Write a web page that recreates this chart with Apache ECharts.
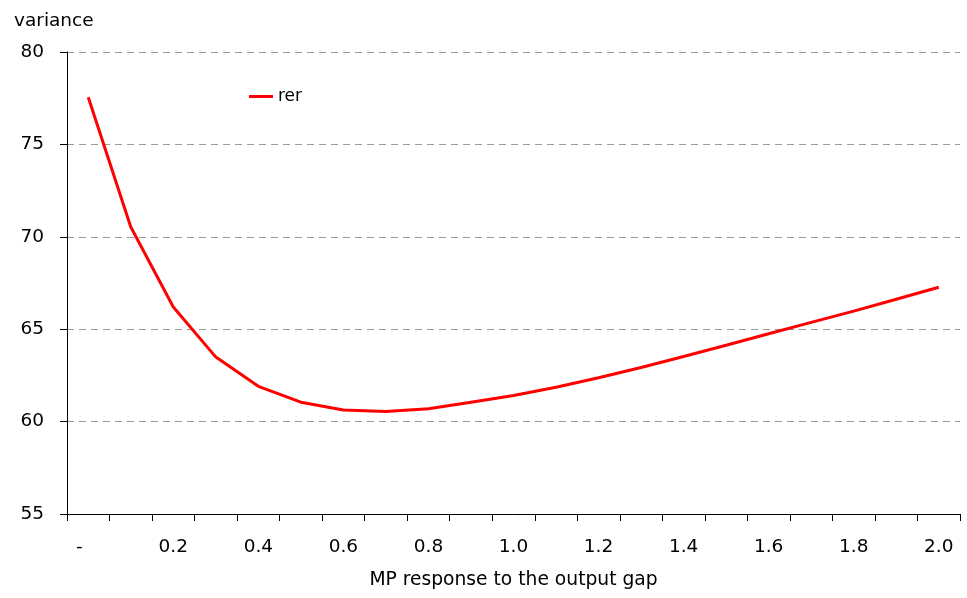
<!DOCTYPE html>
<html>
<head>
<meta charset="utf-8">
<script src="https://cdn.jsdelivr.net/npm/echarts@6/dist/echarts.min.js"></script>
<style>html,body{margin:0;padding:0;background:#fff;}#c{width:967px;height:598px;}</style>
</head>
<body>
<div id="c"></div>
<script>
var categories = ['0','0.1','0.2','0.3','0.4','0.5','0.6','0.7','0.8','0.9','1.0','1.1','1.2','1.3','1.4','1.5','1.6','1.7','1.8','1.9','2.0'];
var tickLabels = ['-   ','','0.2','','0.4','','0.6','','0.8','','1.0','','1.2','','1.4','','1.6','','1.8','','2.0'];
var rerValues = [77.55, 70.53, 66.2, 63.49, 61.91, 61.05, 60.63, 60.54, 60.69, 61.05, 61.41, 61.86, 62.37, 62.93, 63.52, 64.13, 64.75, 65.37, 65.98, 66.62, 67.27];

var chart = echarts.init(document.getElementById('c'), null, {renderer: 'canvas'});
var font = '"DejaVu Sans", sans-serif';
chart.setOption({
  animation: false,
  backgroundColor: '#ffffff',
  title: {
    text: 'variance', left: 9, top: 7,
    textStyle: {fontFamily: font, fontSize: 18.5, fontWeight: 'normal', color: '#000'}
  },
  legend: {
    left: 244, top: 83,
    data: ['rer'],
    icon: 'rect', itemWidth: 24, itemHeight: 3, itemGap: 8,
    textStyle: {fontFamily: font, fontSize: 17, color: '#000'}
  },
  grid: {left: 67, right: 7, top: 52, bottom: 84, containLabel: false},
  xAxis: {
    type: 'category',
    data: categories,
    boundaryGap: true,
    name: 'MP response to the output gap',
    nameLocation: 'middle',
    nameGap: 57,
    nameTextStyle: {fontFamily: font, fontSize: 18.7, color: '#000'},
    axisLine: {lineStyle: {color: '#000', width: 1}},
    axisTick: {show: true, interval: 0, length: 7, lineStyle: {color: '#000'}},
    axisLabel: {
      interval: 0, margin: 24,
      fontFamily: font, fontSize: 18.5, color: '#000',
      formatter: function (v, i) { return tickLabels[i]; }
    },
    splitLine: {show: false}
  },
  yAxis: {
    type: 'value',
    min: 55, max: 80, interval: 5,
    axisLine: {show: true, lineStyle: {color: '#000', width: 1}},
    axisTick: {show: true, length: 7, lineStyle: {color: '#000'}},
    axisLabel: {margin: 23, fontFamily: font, fontSize: 18.5, color: '#000'},
    splitLine: {show: true, lineStyle: {color: '#999', type: [7, 5], width: 1}}
  },
  series: [{
    name: 'rer',
    type: 'line',
    data: rerValues,
    showSymbol: false,
    symbol: 'none',
    lineStyle: {color: '#ff0000', width: 3},
    itemStyle: {color: '#ff0000'}
  }]
});
</script>
</body>
</html>
